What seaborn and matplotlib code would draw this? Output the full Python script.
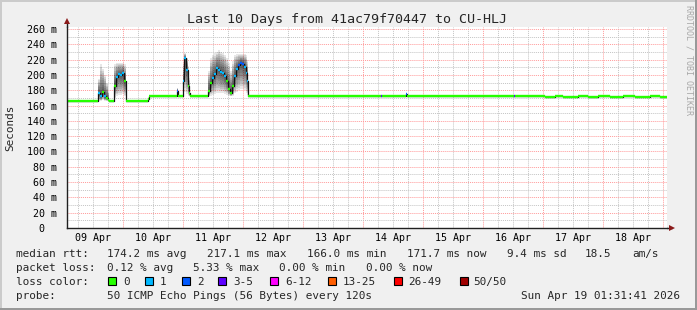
import numpy as np
import matplotlib
matplotlib.use('Agg')
import matplotlib.pyplot as plt
import seaborn as sns
from matplotlib.patches import Rectangle
from matplotlib.transforms import blended_transform_factory

sns.set_style('white')
plt.rcParams['font.family'] = ['DejaVu Sans Mono']

# ---------------- data (hours since 09 Apr 00:00) ----------------
hours = [1.53, 14.0, 14.8, 15.6, 16.4, 17.2, 18.0, 18.4, 20.4, 21.2,
         22.0, 22.8, 23.6, 24.4, 25.2, 34.0, 34.6, 45.6, 46.0, 48.0,
         48.4, 49.2, 50.0, 50.4, 50.8, 58.0, 58.8, 59.6, 60.4, 61.2,
         62.0, 62.8, 63.6, 64.4, 65.2, 66.0, 66.8, 67.6, 68.4, 69.2,
         70.0, 70.8, 71.6, 72.4, 73.2, 73.6, 74.0, 127.4, 127.8, 137.4,
         137.8, 180.6, 181.0, 193.0, 197.0, 200.0, 206.0, 210.0, 214.0, 219.0,
         224.0, 229.0, 235.0, 239.0, 241.53]
median_ms = [166, 176, 172, 178, 172, 170, 167, 166, 186, 197,
             201, 200, 202, 192, 166, 169, 172, 179, 172, 192,
             222, 206, 186, 176, 172, 179, 189, 196, 201, 209,
             207, 204, 203, 198, 192, 182, 177, 185, 199, 208,
             213, 216, 214, 211, 203, 192, 172, 173, 172, 175,
             172, 173, 172, 171.4, 172, 171.4, 172, 171.4, 172, 171.4,
             172, 171.4, 172, 171.4, 171.4]
lost_pings = [0, 1, 1, 0, 1, 0, 0, 0, 0, 1,
              1, 1, 1, 0, 0, 0, 0, 2, 0, 1,
              1, 1, 0, 0, 0, 0, 0, 1, 1, 1,
              1, 1, 1, 1, 0, 0, 0, 0, 1, 1,
              2, 2, 2, 1, 1, 1, 0, 3, 0, 2,
              0, 3, 0, 0, 0, 0, 0, 0, 0, 0,
              0, 0, 0, 0, 0]
smoke_lo = [166, 166, 166, 167, 166, 166, 166, 166, 170, 172,
            174, 174, 175, 172, 166, 169, 172, 172, 172, 172,
            178, 175, 172, 172, 172, 172, 173, 174, 175, 177,
            177, 176, 176, 175, 174, 173, 172, 173, 176, 178,
            180, 182, 182, 180, 176, 174, 172, 172, 172, 172,
            172, 172, 172, 171.4, 172, 171.4, 172, 171.4, 172, 171.4,
            172, 171.4, 172, 171.4, 171.4]
smoke_hi = [166, 195, 214, 208, 200, 190, 178, 166, 214, 216,
            216, 216, 216, 214, 166, 169, 172, 183, 172, 216,
            228, 222, 212, 196, 172, 205, 222, 226, 228, 230,
            232, 230, 228, 226, 222, 215, 205, 218, 226, 227,
            227, 227, 227, 227, 226, 220, 172, 174, 172, 177,
            172, 174, 172, 171.4, 172, 171.4, 172, 171.4, 172, 171.4,
            172, 171.4, 172, 171.4, 171.4]

day_labels = ['09 Apr', '10 Apr', '11 Apr', '12 Apr', '13 Apr',
              '14 Apr', '15 Apr', '16 Apr', '17 Apr', '18 Apr']
ytick_vals = list(range(0, 261, 20))
ytick_labels = ['0  '] + [f'{v} m' for v in ytick_vals[1:]]

loss_labels = ['0', '1', '2', '3-5', '6-12', '13-25', '26-49', '50/50']
loss_colors = ['#26ff00', '#00b8ff', '#0059ff', '#5e00ff', '#ff00ff',
               '#ff5e00', '#ff0000', '#a00000']
loss_upper = [0, 1, 2, 5, 12, 25, 49, 50]

title = 'Last 10 Days from 41ac79f70447 to CU-HLJ'

# ---------------- figure ----------------
W, H = 697, 310
fig = plt.figure(figsize=(W / 100, H / 100), dpi=100)
fig.patch.set_facecolor('#f0f0f0')

ax_left, ax_bottom, ax_w = 66.5, 228, 600
ax_h = 262 * 199 / 260
ax = fig.add_axes([ax_left / W, (H - ax_bottom) / H, ax_w / W, ax_h / H])
ax.set_facecolor('white')

t = np.array(hours, dtype=float)
med = np.array(median_ms, dtype=float)
lo = np.array(smoke_lo, dtype=float)
hi = np.array(smoke_hi, dtype=float)

# smoke: nested grey bands, darker toward median
for f in np.linspace(1.0, 0.1, 10):
    ax.fill_between(t, med - f * (med - lo), med + f * (hi - med),
                    step='post', color='black', alpha=0.095, lw=0, zorder=2)

# median line (black steps)
sns.lineplot(x=t, y=med, drawstyle='steps-post', color='#111111', lw=0.9,
             ax=ax, estimator=None, sort=False, zorder=3)


def loss_bin(n):
    for i, u in enumerate(loss_upper):
        if n <= u:
            return i
    return len(loss_upper) - 1


seg_colors = [loss_colors[loss_bin(n)] for n in lost_pings[:-1]]
ax.hlines(med[:-1], t[:-1], t[1:], colors=seg_colors, lw=1.7, zorder=4)

ax.set_xlim(1.53, 241.53)
ax.set_ylim(0, 262)

# grid
ax.set_xticks(np.arange(24, 241, 24))
ax.set_xticks(np.arange(6, 241, 6), minor=True)
ax.set_yticks(ytick_vals)
ax.set_yticks(np.arange(10, 261, 10), minor=True)
ax.set_yticklabels(ytick_labels)
ax.set_xticklabels([])
ax.grid(which='major', color='#ff9a9a', ls=(0, (1, 1)), lw=0.7, zorder=0)
ax.grid(which='minor', color='#c4c4c4', ls=(0, (1, 1)), lw=0.7, zorder=0)
ax.set_axisbelow(True)
ax.tick_params(axis='y', which='major', length=3, width=0.7, color='#ff8080',
               labelsize=7.2, pad=4, labelcolor='black')
ax.tick_params(axis='y', which='minor', length=0)
ax.tick_params(axis='x', which='major', length=3, width=0.7, color='#ff8080',
               direction='inout')
ax.tick_params(axis='x', which='minor', length=2, width=0.6, color='#b0b0b0',
               direction='inout')

trans = blended_transform_factory(ax.transData, ax.transAxes)
for i, lab in enumerate(day_labels):
    ax.text(12 + 24 * i, -10 / ax_h, lab, transform=trans, ha='center',
            va='center', fontsize=7.2, color='black')

for s in ['top', 'right']:
    ax.spines[s].set_visible(False)
for s in ['left', 'bottom']:
    ax.spines[s].set_color('#202020')
    ax.spines[s].set_linewidth(1.0)
    ax.spines[s].set_zorder(5)

# axis arrows
ax.plot([0, 0], [1, 1 + 6 / ax_h], transform=ax.transAxes, clip_on=False,
        color='#202020', lw=1.0)
ax.plot([0], [1 + 6 / ax_h], marker='^', ms=4.5, color='#8b1a1a',
        transform=ax.transAxes, clip_on=False, mew=0)
ax.plot([1, 1 + 5 / ax_w], [0, 0], transform=ax.transAxes, clip_on=False,
        color='#202020', lw=1.0)
ax.plot([1 + 5 / ax_w], [0], marker='>', ms=4.5, color='#8b1a1a',
        transform=ax.transAxes, clip_on=False, mew=0)

ax.set_xlabel('')
ax.set_ylabel('')


def ftext(x, y, s, **kw):
    kw.setdefault('fontsize', 7.9)
    kw.setdefault('va', 'center')
    kw.setdefault('ha', 'left')
    fig.text(x / W, 1 - y / H, s, **kw)


ftext(347, 19, title, ha='center', fontsize=9.6)
ftext(10, 128, 'Seconds', ha='center', rotation=90)
ftext(689, 5, 'RRDTOOL / TOBI OETIKER', ha='center', va='top', rotation=270,
      fontsize=6.0, color='#a8a8a8')

# legend rows
r1, r2, r3, r4 = 254, 268, 282, 296
ftext(16, r1, 'median rtt:')
for x, s in [(107, '174.2 ms avg'), (207, '217.1 ms max'), (307, '166.0 ms min'),
             (407, '171.7 ms now'), (507, '9.4 ms sd'), (585, '18.5'), (632, 'am/s')]:
    ftext(x, r1, s)
ftext(16, r2, 'packet loss:')
for x, s in [(107, '0.12 % avg'), (193, '5.33 % max'), (279, '0.00 % min'),
             (366, '0.00 % now')]:
    ftext(x, r2, s)
ftext(16, r3, 'loss color:')
box_x = [108, 145, 182, 218, 270, 328, 394, 460]
lab_x = [123, 160, 197, 233, 285, 343, 408, 473]
for bx, lx, c, lab in zip(box_x, lab_x, loss_colors, loss_labels):
    fig.add_artist(Rectangle((bx / W, 1 - 285 / H), 8 / W, 8 / H,
                             transform=fig.transFigure, facecolor=c,
                             edgecolor='black', lw=0.8))
    ftext(lx, r3, lab)
ftext(16, r4, 'probe:')
ftext(107, r4, '50 ICMP Echo Pings (56 Bytes) every 120s')
ftext(680, r4, 'Sun Apr 19 01:31:41 2026', ha='right')

# 3D frame
fig.add_artist(Rectangle((0, 0), 2 / W, 1, transform=fig.transFigure,
                         facecolor='#cbcbcb', lw=0))
fig.add_artist(Rectangle((0, 1 - 2 / H), 1, 2 / H, transform=fig.transFigure,
                         facecolor='#cbcbcb', lw=0))
fig.add_artist(Rectangle((1 - 2 / W, 0), 2 / W, 1, transform=fig.transFigure,
                         facecolor='#999999', lw=0))
fig.add_artist(Rectangle((0, 0), 1, 2 / H, transform=fig.transFigure,
                         facecolor='#999999', lw=0))

fig.savefig('out.png', dpi=100, facecolor=fig.get_facecolor())
